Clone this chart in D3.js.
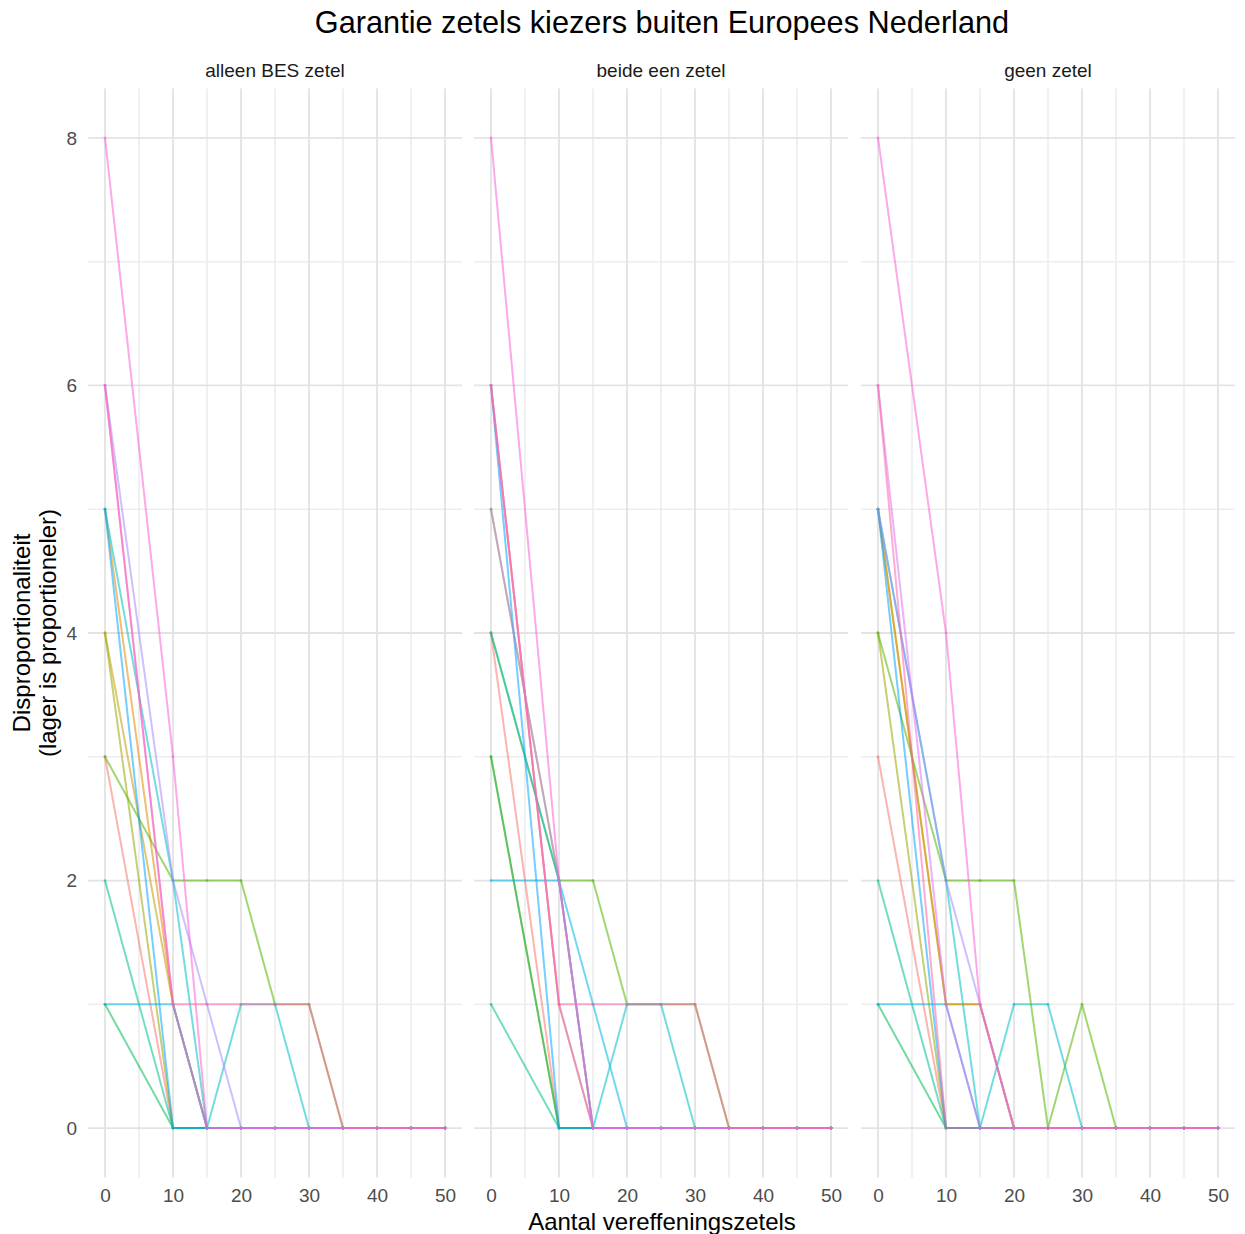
<!DOCTYPE html>
<html><head><meta charset="utf-8">
<script src="https://cdn.jsdelivr.net/npm/d3@7"></script>
<style>
body{margin:0;background:#fff;}
text{font-family:"Liberation Sans",Arial,Helvetica,sans-serif;}
</style>
</head><body>
<svg id="chart" width="1245" height="1234"></svg>
<script>
// ---------------- data ----------------
const title = "Garantie zetels kiezers buiten Europees Nederland";
const xTitle = "Aantal vereffeningszetels";
const yTitle = ["Disproportionaliteit", "(lager is proportioneler)"];
const facets = ["alleen BES zetel", "beide een zetel", "geen zetel"];
const xValues = [0, 10, 15, 20, 25, 30, 35, 40, 45, 50];
const xTicks = [0, 10, 20, 30, 40, 50];
const xMinor = [5, 15, 25, 35, 45];
const yTicks = [0, 2, 4, 6, 8];
const yMinor = [1, 3, 5, 7];
const groups = ["g01","g02","g03","g04","g05","g06","g07","g08","g09","g10","g11","g12","g13","g14"];

// values per group (rows) at xValues (columns)
const alleenBES = [
  [3,0,0,0,0,0,0,0,0,0],
  [5,1,0,0,0,0,0,0,0,0],
  [4,1,0,0,0,0,0,0,0,0],
  [4,0,0,0,0,0,0,0,0,0],
  [3,2,2,2,1,1,0,0,0,0],
  [1,0,0,0,0,0,0,0,0,0],
  [2,0,0,0,0,0,0,0,0,0],
  [5,2,0,1,1,0,0,0,0,0],
  [1,1,0,0,0,0,0,0,0,0],
  [5,0,0,0,0,0,0,0,0,0],
  [6,2,1,0,0,0,0,0,0,0],
  [6,1,0,0,0,0,0,0,0,0],
  [8,3,0,0,0,0,0,0,0,0],
  [6,1,1,1,1,1,0,0,0,0]
];
const beideEen = [
  [4,0,0,0,0,0,0,0,0,0],
  [6,1,0,0,0,0,0,0,0,0],
  [5,2,0,0,0,0,0,0,0,0],
  [3,0,0,0,0,0,0,0,0,0],
  [4,2,2,1,1,1,0,0,0,0],
  [3,0,0,0,0,0,0,0,0,0],
  [1,0,0,0,0,0,0,0,0,0],
  [4,2,0,1,1,0,0,0,0,0],
  [2,2,1,0,0,0,0,0,0,0],
  [6,0,0,0,0,0,0,0,0,0],
  [5,2,0,0,0,0,0,0,0,0],
  [6,1,0,0,0,0,0,0,0,0],
  [8,2,0,0,0,0,0,0,0,0],
  [6,1,1,1,1,1,0,0,0,0]
];
const geenZetel = [
  [3,0,0,0,0,0,0,0,0,0],
  [5,1,1,0,0,0,0,0,0,0],
  [5,1,1,0,0,0,0,0,0,0],
  [4,0,0,0,0,0,0,0,0,0],
  [4,2,2,2,0,1,0,0,0,0],
  [1,0,0,0,0,0,0,0,0,0],
  [2,0,0,0,0,0,0,0,0,0],
  [5,2,0,1,1,0,0,0,0,0],
  [1,1,0,0,0,0,0,0,0,0],
  [5,0,0,0,0,0,0,0,0,0],
  [5,2,1,0,0,0,0,0,0,0],
  [6,1,0,0,0,0,0,0,0,0],
  [8,4,1,0,0,0,0,0,0,0],
  [6,0,0,0,0,0,0,0,0,0]
];
const facetValues = [alleenBES, beideEen, geenZetel];

// ---------------- style ----------------
const palette = ["#F8766D","#E38900","#C49A00","#99A800","#53B400","#00BC56","#00C094",
                 "#00BFC4","#00B6EB","#06A4FF","#A58AFF","#DF70F8","#FB61D7","#FF66A8"];

// ---------------- layout ----------------
const svg = d3.select("#chart");
const panelLefts = [88, 474, 861];
const panelW = 374;
const panelTop = 88.4, panelBottom = 1177.6;

const y = d3.scaleLinear().domain([-0.4, 8.4]).range([panelBottom, panelTop]);
const color = d3.scaleOrdinal().domain(groups).range(palette);

svg.append("rect").attr("width", 1245).attr("height", 1234).attr("fill", "#fff");

// title
svg.append("text").attr("x", 662).attr("y", 33).attr("text-anchor", "middle")
  .attr("font-size", 30.7).attr("fill", "#000").text(title);

// y axis title
const yt = svg.append("text").attr("transform", "translate(0,633) rotate(-90)")
  .attr("text-anchor", "middle").attr("font-size", 24).attr("fill", "#000");
yt.append("tspan").attr("x", 0).attr("y", 30).text(yTitle[0]);
yt.append("tspan").attr("x", 0).attr("y", 56).text(yTitle[1]);

// x axis title
svg.append("text").attr("x", 662).attr("y", 1230).attr("text-anchor", "middle")
  .attr("font-size", 24).attr("fill", "#000").text(xTitle);

// y tick labels (left of first panel)
const yAxis = d3.axisLeft(y).tickValues(yTicks).tickSize(0).tickPadding(0).tickFormat(d3.format("d"));
const yg = svg.append("g").attr("transform", `translate(${77},0)`).call(yAxis);
yg.select(".domain").remove();
yg.selectAll("text").attr("font-size", 19).attr("fill", "#4d4d4d")
  .attr("font-family", "Liberation Sans, Arial, sans-serif");

facets.forEach((f, fi) => {
  const left = panelLefts[fi];
  const x = d3.scaleLinear().domain([-2.5, 52.5]).range([left, left + panelW]);
  const g = svg.append("g");

  // strip label
  g.append("text").attr("x", left + panelW / 2).attr("y", 77).attr("text-anchor", "middle")
    .attr("font-size", 19).attr("fill", "#1a1a1a").text(f);

  // grid
  g.selectAll(".ymin").data(yMinor).join("line")
    .attr("x1", left).attr("x2", left + panelW)
    .attr("y1", d => y(d)).attr("y2", d => y(d))
    .attr("stroke", "#ededed").attr("stroke-width", 1.6);
  g.selectAll(".xmin").data(xMinor).join("line")
    .attr("y1", panelTop).attr("y2", panelBottom)
    .attr("x1", d => x(d)).attr("x2", d => x(d))
    .attr("stroke", "#ededed").attr("stroke-width", 1.6);
  g.selectAll(".ymaj").data(yTicks).join("line")
    .attr("x1", left).attr("x2", left + panelW)
    .attr("y1", d => y(d)).attr("y2", d => y(d))
    .attr("stroke", "#e3e3e3").attr("stroke-width", 1.8);
  g.selectAll(".xmaj").data(xTicks).join("line")
    .attr("y1", panelTop).attr("y2", panelBottom)
    .attr("x1", d => x(d)).attr("x2", d => x(d))
    .attr("stroke", "#e3e3e3").attr("stroke-width", 1.8);

  // x tick labels
  const xAxis = d3.axisBottom(x).tickValues(xTicks).tickSize(0).tickPadding(0).tickFormat(d3.format("d"));
  const xg = g.append("g").attr("transform", `translate(0,${1188})`).call(xAxis);
  xg.select(".domain").remove();
  xg.selectAll("text").attr("font-size", 19).attr("fill", "#4d4d4d")
    .attr("font-family", "Liberation Sans, Arial, sans-serif");

  // data
  const vals = facetValues[fi];
  const seriesData = groups.map((grp, gi) => ({
    grp, pts: xValues.map((xv, k) => ({x: xv, v: vals[gi][k]}))
  }));
  const line = d3.line().x(d => x(d.x)).y(d => y(d.v));
  g.selectAll(".ln").data(seriesData).join("path")
    .attr("d", d => line(d.pts)).attr("fill", "none")
    .attr("stroke", d => color(d.grp)).attr("stroke-width", 2)
    .attr("stroke-opacity", 0.55).attr("stroke-linejoin", "round");
  seriesData.forEach(s => {
    g.selectAll(null).data(s.pts).join("circle")
      .attr("cx", d => x(d.x)).attr("cy", d => y(d.v)).attr("r", 1.4)
      .attr("fill", color(s.grp)).attr("fill-opacity", 0.6);
  });
});
</script>
</body></html>
